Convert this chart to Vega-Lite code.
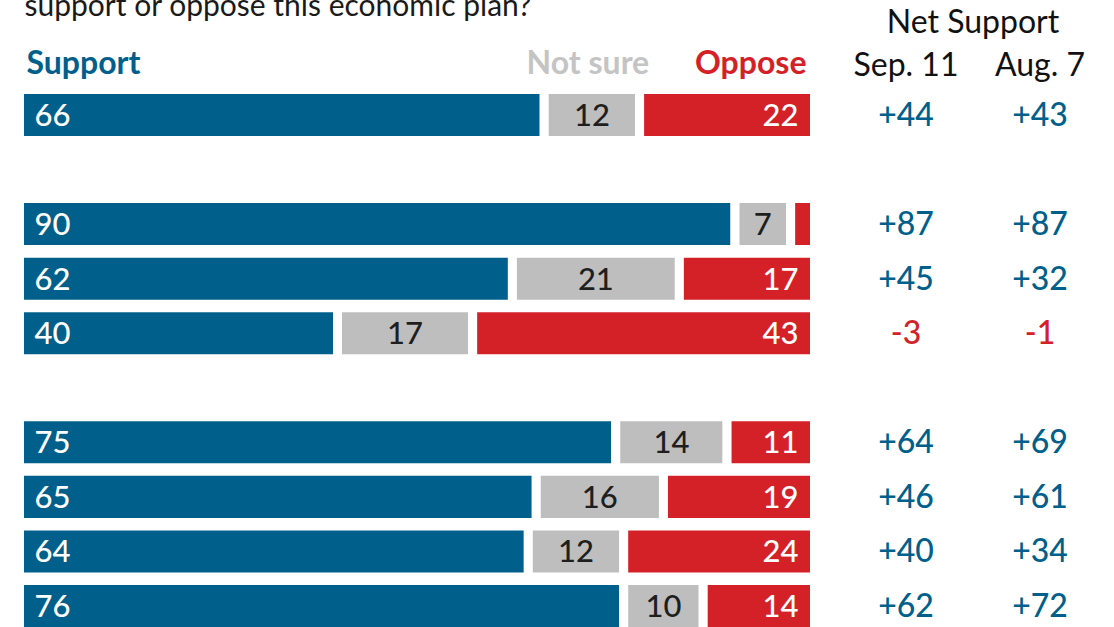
{
  "$schema": "https://vega.github.io/schema/vega-lite/v6.json",
  "width": 1114,
  "height": 627,
  "padding": 0,
  "autosize": {"type": "none"},
  "background": "white",
  "config": {"view": {"stroke": null}, "font": "Lato", "text": {"font": "Lato"}},
  "datasets": {
    "bars": [
      {"row": "r1", "answer": "Support", "value": 66},
      {"row": "r1", "answer": "Not sure", "value": 12},
      {"row": "r1", "answer": "Oppose", "value": 22},
      {"row": "r2", "answer": "Support", "value": 90},
      {"row": "r2", "answer": "Not sure", "value": 7},
      {"row": "r2", "answer": "Oppose", "value": 3},
      {"row": "r3", "answer": "Support", "value": 62},
      {"row": "r3", "answer": "Not sure", "value": 21},
      {"row": "r3", "answer": "Oppose", "value": 17},
      {"row": "r4", "answer": "Support", "value": 40},
      {"row": "r4", "answer": "Not sure", "value": 17},
      {"row": "r4", "answer": "Oppose", "value": 43},
      {"row": "r5", "answer": "Support", "value": 75},
      {"row": "r5", "answer": "Not sure", "value": 14},
      {"row": "r5", "answer": "Oppose", "value": 11},
      {"row": "r6", "answer": "Support", "value": 65},
      {"row": "r6", "answer": "Not sure", "value": 16},
      {"row": "r6", "answer": "Oppose", "value": 19},
      {"row": "r7", "answer": "Support", "value": 64},
      {"row": "r7", "answer": "Not sure", "value": 12},
      {"row": "r7", "answer": "Oppose", "value": 24},
      {"row": "r8", "answer": "Support", "value": 76},
      {"row": "r8", "answer": "Not sure", "value": 10},
      {"row": "r8", "answer": "Oppose", "value": 14}
    ],
    "net": [
      {"row": "r1", "period": "Sep. 11", "net": "+44"},
      {"row": "r1", "period": "Aug. 7", "net": "+43"},
      {"row": "r2", "period": "Sep. 11", "net": "+87"},
      {"row": "r2", "period": "Aug. 7", "net": "+87"},
      {"row": "r3", "period": "Sep. 11", "net": "+45"},
      {"row": "r3", "period": "Aug. 7", "net": "+32"},
      {"row": "r4", "period": "Sep. 11", "net": "-3"},
      {"row": "r4", "period": "Aug. 7", "net": "-1"},
      {"row": "r5", "period": "Sep. 11", "net": "+64"},
      {"row": "r5", "period": "Aug. 7", "net": "+69"},
      {"row": "r6", "period": "Sep. 11", "net": "+46"},
      {"row": "r6", "period": "Aug. 7", "net": "+61"},
      {"row": "r7", "period": "Sep. 11", "net": "+40"},
      {"row": "r7", "period": "Aug. 7", "net": "+34"},
      {"row": "r8", "period": "Sep. 11", "net": "+62"},
      {"row": "r8", "period": "Aug. 7", "net": "+72"}
    ]
  },
  "encoding": {
    "y": {
      "field": "row",
      "type": "ordinal",
      "scale": {
        "domain": ["h", "r1", "g1", "r2", "r3", "r4", "g2", "r5", "r6", "r7", "r8"],
        "range": [34.9, 631.5],
        "paddingInner": 0.065,
        "paddingOuter": 0
      },
      "axis": null
    }
  },
  "layer": [
    {
      "data": {"name": "bars"},
      "transform": [
        {"calculate": "indexof(['Support','Not sure','Oppose'], datum.answer)", "as": "k"},
        {"stack": "value", "groupby": ["row"], "sort": [{"field": "k", "order": "ascending"}], "as": ["x0", "x1"]},
        {"calculate": "(datum.x0 + datum.x1) / 2", "as": "mid"}
      ],
      "encoding": {
        "x": {"field": "x0", "type": "quantitative", "scale": {"domain": [0, 100], "range": [19.5, 814.5], "nice": false, "zero": false}, "axis": null}
      },
      "layer": [
        {
          "mark": {"type": "bar", "stroke": "white", "strokeWidth": 9},
          "encoding": {
            "x2": {"field": "x1"},
            "color": {"field": "answer", "type": "nominal", "scale": {"domain": ["Support", "Not sure", "Oppose"], "range": ["#005f8b", "#bebebe", "#d42128"]}, "legend": null}
          }
        },
        {
          "transform": [{"filter": "datum.answer == 'Support'"}],
          "mark": {"type": "text", "align": "left", "baseline": "alphabetic", "dx": 15, "dy": 11, "fontSize": 31, "fontWeight": 500, "fill": "white"},
          "encoding": {"text": {"field": "value", "type": "quantitative"}}
        },
        {
          "transform": [{"filter": "datum.answer == 'Not sure'"}],
          "mark": {"type": "text", "align": "center", "baseline": "alphabetic", "dy": 11, "fontSize": 31, "fontWeight": 500, "fill": "#1e1e1e"},
          "encoding": {"x": {"field": "mid", "type": "quantitative"}, "text": {"field": "value", "type": "quantitative"}}
        },
        {
          "transform": [{"filter": "datum.answer == 'Oppose' && datum.value >= 5"}],
          "mark": {"type": "text", "align": "right", "baseline": "alphabetic", "dx": -16, "dy": 11, "fontSize": 31, "fontWeight": 500, "fill": "white"},
          "encoding": {"x": {"field": "x1", "type": "quantitative"}, "text": {"field": "value", "type": "quantitative"}}
        },
        {
          "transform": [{"filter": "datum.row == 'r1' && datum.answer == 'Support'"}],
          "mark": {"type": "text", "align": "left", "baseline": "alphabetic", "dx": 7, "dy": 14, "fontSize": 32, "fontWeight": "bold", "fill": "#005f8b"},
          "encoding": {"y": {"datum": "h", "type": "ordinal"}, "text": {"field": "answer"}}
        },
        {
          "transform": [{"filter": "datum.row == 'r1' && datum.answer == 'Not sure'"}],
          "mark": {"type": "text", "align": "center", "baseline": "alphabetic", "dx": -4, "dy": 14, "fontSize": 32, "fontWeight": "bold", "fill": "#c4c4c4"},
          "encoding": {"x": {"field": "mid", "type": "quantitative"}, "y": {"datum": "h", "type": "ordinal"}, "text": {"field": "answer"}}
        },
        {
          "transform": [{"filter": "datum.row == 'r1' && datum.answer == 'Oppose'"}],
          "mark": {"type": "text", "align": "right", "baseline": "alphabetic", "dx": -8, "dy": 14, "fontSize": 32, "fontWeight": "bold", "fill": "#d42128"},
          "encoding": {"x": {"field": "x1", "type": "quantitative"}, "y": {"datum": "h", "type": "ordinal"}, "text": {"field": "answer"}}
        }
      ]
    },
    {
      "data": {"values": [{"label": "support or oppose this economic plan?", "pos": 0}]},
      "mark": {"type": "text", "align": "left", "baseline": "alphabetic", "dx": 5, "dy": -44, "fontSize": 30, "fill": "#1a1a1a"},
      "encoding": {
        "x": {"datum": 0, "type": "quantitative", "scale": {"domain": [0, 100], "range": [19.5, 814.5], "nice": false, "zero": false}, "axis": null},
        "y": {"datum": "h", "type": "ordinal"},
        "text": {"field": "label"}
      }
    },
    {
      "encoding": {
        "x": {"field": "period", "type": "nominal", "scale": {"type": "point", "domain": ["Sep. 11", "Net", "Aug. 7"], "range": [906, 1040], "padding": 0}, "axis": null}
      },
      "layer": [
        {
          "data": {"name": "net"},
          "mark": {"type": "text", "align": "center", "baseline": "alphabetic", "dy": 11, "fontSize": 32, "fontWeight": 500},
          "encoding": {
            "text": {"field": "net"},
            "color": {"condition": {"test": "indexof(datum.net, '-') == 0", "value": "#d42128"}, "value": "#005f8b"}
          }
        },
        {
          "data": {"values": [{"period": "Sep. 11"}, {"period": "Aug. 7"}]},
          "mark": {"type": "text", "align": "center", "baseline": "alphabetic", "dy": 16, "fontSize": 32, "fill": "#111111"},
          "encoding": {"y": {"datum": "h", "type": "ordinal"}, "text": {"field": "period"}}
        },
        {
          "data": {"values": [{"period": "Net", "label": "Net Support"}]},
          "mark": {"type": "text", "align": "center", "baseline": "alphabetic", "dy": -27, "fontSize": 32, "fill": "#111111"},
          "encoding": {"y": {"datum": "h", "type": "ordinal"}, "text": {"field": "label"}}
        }
      ]
    }
  ],
  "resolve": {"scale": {"x": "independent"}}
}
